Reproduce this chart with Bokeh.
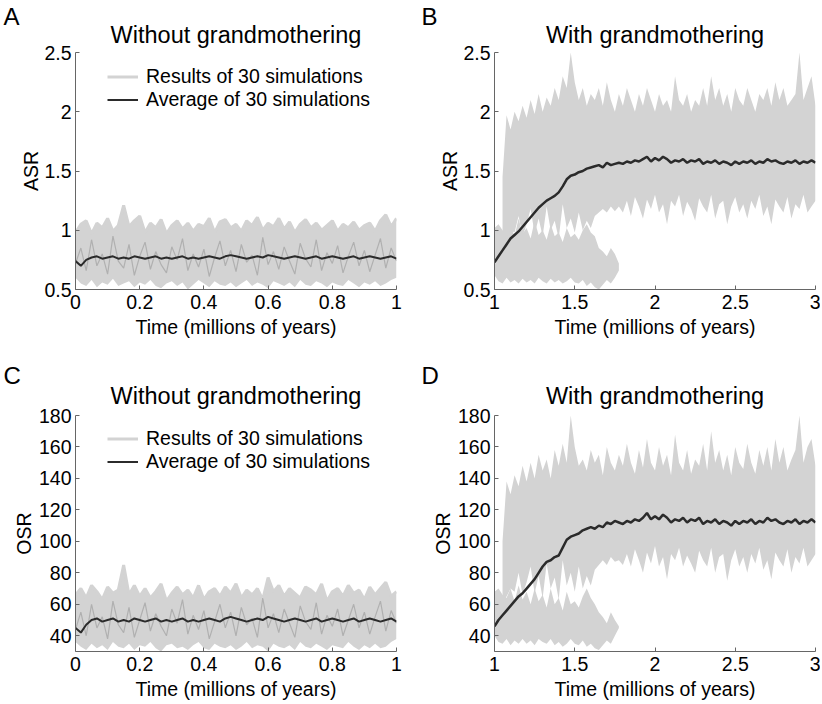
import numpy as np
from bokeh.plotting import figure
from bokeh.models import Range1d, Legend, LegendItem, FixedTicker, NumeralTickFormatter, Title
from bokeh.layouts import column, row
from bokeh.embed import file_html
from bokeh.resources import INLINE

# ---------------- data ----------------
upper_A = [0.98,1.05,1.08,0.97,1.06,1.02,1.10,0.99,1.04,1.21,
           1.03,1.08,1.12,0.98,1.06,1.02,1.09,0.97,1.04,1.08,
           1.01,1.06,0.99,1.05,1.03,1.10,0.98,1.07,1.09,1.02,
           1.05,0.99,1.08,1.04,1.11,1.00,1.06,1.03,1.10,1.01,
           1.07,0.98,1.05,1.09,1.02,1.06,1.00,1.04,1.08,0.99,
           1.05,1.02,1.07,1.00,1.04,1.06,0.99,1.08,1.13,1.03,
           1.10]
lower_A = [0.60,0.55,0.53,0.58,0.52,0.56,0.54,0.59,0.53,0.55,
           0.57,0.52,0.56,0.54,0.58,0.53,0.51,0.55,0.57,0.53,
           0.56,0.50,0.54,0.58,0.55,0.52,0.57,0.54,0.53,0.56,
           0.52,0.55,0.58,0.53,0.56,0.54,0.51,0.57,0.55,0.53,
           0.56,0.52,0.58,0.54,0.53,0.57,0.55,0.52,0.56,0.54,
           0.53,0.58,0.55,0.52,0.56,0.54,0.57,0.53,0.55,0.58,
           0.60]
strand_A = [0.72,0.85,0.66,0.92,0.70,0.80,0.63,0.95,0.74,0.68,
            0.88,0.62,0.78,0.90,0.67,0.82,0.71,0.64,0.86,0.75,
            0.93,0.66,0.80,0.69,0.84,0.61,0.77,0.91,0.70,0.83,
            0.65,0.88,0.73,0.79,0.62,0.94,0.71,0.82,0.67,0.86,
            0.74,0.63,0.89,0.76,0.69,0.92,0.66,0.81,0.72,0.87,
            0.64,0.78,0.90,0.70,0.83,0.65,0.79,0.93,0.68,0.85,
            0.74]
avg_A = [0.74,0.70,0.75,0.77,0.78,0.76,0.77,0.78,0.76,0.77,
         0.76,0.78,0.77,0.76,0.77,0.78,0.76,0.77,0.76,0.77,
         0.78,0.76,0.77,0.76,0.77,0.78,0.77,0.76,0.78,0.79,
         0.78,0.77,0.76,0.77,0.78,0.77,0.79,0.78,0.77,0.76,
         0.77,0.78,0.77,0.76,0.77,0.78,0.76,0.77,0.78,0.77,
         0.76,0.77,0.78,0.76,0.77,0.78,0.77,0.76,0.77,0.78,
         0.76]

upper_C = [66,70,64,72,68,63,71,67,69,85, 66,72,65,70,64,68,73,62,67,71,
           66,69,64,72,63,68,70,65,71,67, 73,64,69,66,70,63,77,68,72,65,
           70,67,64,71,69,66,73,62,68,70, 65,72,67,69,63,71,66,70,74,65, 68]
lower_C = [36,33,31,35,32,34,31,36,33,32, 35,31,34,33,36,32,30,34,35,32,
           33,31,34,36,32,31,35,33,32,34, 31,33,36,32,34,33,30,35,33,32,
           34,31,36,33,32,35,33,31,34,33, 32,36,33,31,34,32,35,32,33,36, 38]
strand_C = [44,55,40,60,45,52,38,62,47,42, 58,39,50,61,43,54,46,40,57,48,
            63,41,53,44,56,38,49,60,45,55, 40,58,47,51,39,64,45,54,42,57,
            48,39,59,49,44,61,41,53,46,57, 40,50,60,45,55,41,52,62,43,56, 48]
avg_C = [45,42,47,50,51,49,50,51,49,50, 49,51,50,49,50,51,49,50,49,50,
         51,49,50,49,50,51,50,49,51,52, 51,50,49,50,51,50,52,51,50,49,
         50,51,50,49,50,51,49,50,51,50, 49,50,51,49,50,51,50,49,50,51, 49]

low_lo_B = [0.62,0.57,0.55,0.60,0.56,0.58,0.55,0.59,0.56,0.58,
            0.55,0.60,0.57,0.55,0.59,0.56,0.58,0.55,0.57,0.60,
            0.56,0.55,0.58,0.53,0.56,0.52,0.50,0.54,0.58,0.55,
            0.60,0.66]
low_hi_B = [1.02,1.05,1.00,0.98,1.05,0.95,1.10,0.97,1.02,0.93,
            1.08,0.96,1.00,0.92,1.05,0.95,0.98,0.90,1.02,0.94,
            0.97,0.92,1.00,1.05,0.98,0.95,0.85,0.82,0.78,0.85,
            0.80,0.72]
high_lo_B = [0.90,0.95,1.00,0.98,1.12,0.95,1.05,1.18,0.97,1.10,
             0.95,1.20,1.00,1.08,0.93,1.22,1.02,1.10,0.98,1.15,
             1.00,1.08,1.02,1.12,1.15,1.18,1.15,1.20,1.16,1.20,
             1.15,
             1.25,1.12,1.28,1.20,1.10,1.26,1.18,1.30,1.15,1.22,
             1.05,1.25,1.20,1.30,1.12,1.24,1.18,1.08,1.27,1.20,
             1.15,1.30,1.10,1.22,1.25,1.05,1.20,1.28,1.15,1.22,
             1.10,1.25,1.18,1.30,1.12,1.20,1.05,1.26,1.20,1.15,
             1.28,1.10,1.22,1.18,1.30,1.15,1.20,1.25]
high_hi_B = [1.45,1.97,1.85,2.00,1.92,2.05,1.95,2.10,1.98,2.15,
             2.00,2.12,2.05,2.20,2.10,2.30,2.20,2.50,2.25,2.10,
             2.20,2.05,2.15,2.10,2.20,2.05,2.25,2.10,2.00,2.15,
             2.05,2.20,2.10,2.00,2.15,2.05,2.20,2.10,2.00,2.15,
             2.05,2.10,2.00,2.30,2.10,2.05,2.15,2.00,2.10,2.05,
             2.20,2.05,2.30,2.10,2.20,2.05,2.15,2.00,2.20,2.10,
             2.05,2.20,2.10,2.00,2.15,2.10,2.20,2.05,2.25,2.10,
             2.20,2.05,2.10,2.15,2.50,2.10,2.20,2.30,2.05]
avg_B = [0.73,0.78,0.83,0.88,0.93,0.96,0.99,1.03,1.07,1.11,
         1.15,1.19,1.22,1.25,1.27,1.29,1.32,1.37,1.43,1.46,
         1.47,1.49,1.50,1.52,1.53,1.54,1.55,1.53,1.57,1.55,
         1.56,1.57,1.56,1.58,1.57,1.59,1.58,1.60,1.62,1.58,
         1.61,1.59,1.62,1.60,1.57,1.59,1.58,1.60,1.57,1.59,
         1.58,1.60,1.56,1.58,1.57,1.59,1.56,1.58,1.57,1.55,
         1.58,1.56,1.58,1.57,1.59,1.56,1.58,1.57,1.60,1.58,
         1.59,1.57,1.56,1.58,1.57,1.59,1.56,1.58,1.57,1.59,
         1.57]

low_lo_D = [40,36,35,38,34,37,35,38,35,37, 34,38,36,35,38,34,36,33,35,38,
            35,34,37,33,35,32,31,34,37,35, 40,45]
low_hi_D = [68,70,66,64,70,62,72,63,68,60, 70,62,66,58,70,60,64,56,68,60,
            62,58,65,70,64,60,55,52,48,55, 50,46]
high_lo_D = [60,65,70,68,80,66,74,84,67,78, 64,86,70,77,63,88,72,80,68,84,
             70,78,72,82,85,88,85,90,87,88, 85,
             92,84,95,88,80,93,86,97,84,90, 76,92,88,96,84,91,86,80,94,88,
             84,96,80,90,92,75,88,95,84,90, 80,92,86,96,82,88,76,93,88,84,
             95,80,90,86,96,84,88,92]
high_hi_D = [100,138,130,142,135,148,138,150,140,155, 145,152,140,158,148,162,150,180,160,148,
             152,145,158,150,155,142,160,150,145,155, 148,162,150,143,158,147,165,150,145,160,
             148,155,142,168,150,145,158,143,152,148, 162,145,170,150,158,145,155,142,160,150,
             146,162,150,143,158,148,160,145,165,150, 160,145,152,158,180,150,160,165,148]
avg_D = [46,50,53,56,59,62,65,67,70,73, 76,80,84,87,88,90,91,96,101,103,
         104,105,107,108,109,108,110,109,112,111, 113,112,111,113,112,114,113,115,118,114,
         116,114,117,115,112,114,113,115,112,114, 113,115,111,113,112,114,111,113,112,110,
         113,111,113,112,114,111,113,112,115,113, 114,112,111,113,112,114,111,113,112,114,
         112]

x_ticks_early = [0, 0.2, 0.4, 0.6, 0.8, 1]
x_ticks_late = [1, 1.5, 2, 2.5, 3]
asr_ticks = [0.5, 1, 1.5, 2, 2.5]
osr_ticks = [40, 60, 80, 100, 120, 140, 160, 180]

FONT = "Liberation Sans"
LIGHT = "#d3d3d3"
MID = "#b0b0b0"
DARK = "#2b2b2b"
AXIS = "#666666"


def make_fig(width, height, bl, br, bt, bb, xr, yr, xticks, yticks,
             letter, letter_dx, title, title_standoff, ylabel, ylab_standoff):
    p = figure(width=width, height=height, output_backend="svg", toolbar_location=None,
               x_range=Range1d(*xr), y_range=Range1d(*yr),
               min_border_left=bl, min_border_right=br,
               min_border_top=bt, min_border_bottom=bb)
    # panel letter: the plot's own title (outermost panel above the frame)
    p.title.text = letter
    p.title.align = "left"
    p.title.offset = letter_dx
    p.title.standoff = -28
    p.title.text_font = FONT
    p.title.text_font_size = "24px"
    p.title.text_font_style = "normal"
    p.title.text_color = "black"
    # panel heading: an extra title closest to the frame
    p.add_layout(Title(text=title, align="center", standoff=title_standoff,
                       text_font=FONT, text_font_size="23.5px",
                       text_font_style="normal", text_color="black"), "above")
    p.outline_line_color = None
    p.grid.visible = False
    p.background_fill_color = "white"
    p.border_fill_color = "white"
    for ax, ticks in ((p.xaxis[0], xticks), (p.yaxis[0], yticks)):
        ax.ticker = FixedTicker(ticks=ticks)
        ax.formatter = NumeralTickFormatter(format="0.[0]")
        ax.major_tick_in = 4
        ax.major_tick_out = 0
        ax.minor_tick_in = 0
        ax.minor_tick_out = 0
        ax.axis_line_color = AXIS
        ax.major_tick_line_color = AXIS
        ax.major_label_text_font = FONT
        ax.major_label_text_font_size = "19.5px"
        ax.major_label_text_color = "black"
        ax.axis_label_text_font = FONT
        ax.axis_label_text_font_size = "19.5px"
        ax.axis_label_text_font_style = "normal"
        ax.axis_label_text_color = "black"
    p.xaxis[0].major_label_standoff = 5
    p.xaxis[0].axis_label_standoff = 4
    p.yaxis[0].major_label_standoff = 4
    p.yaxis[0].axis_label_standoff = ylab_standoff
    p.xaxis[0].axis_label = "Time (millions of years)"
    p.yaxis[0].axis_label = ylabel
    return p


def add_legend(p, light_r, avg_r, vy):
    leg = Legend(items=[LegendItem(label="Results of 30 simulations", renderers=[light_r]),
                        LegendItem(label="Average of 30 simulations", renderers=[avg_r])],
                 location=(32, vy), padding=0, margin=0, spacing=0,
                 label_height=23, glyph_height=23, glyph_width=31, label_standoff=8,
                 label_text_font=FONT, label_text_font_size="19.5px",
                 label_text_color="black",
                 border_line_alpha=0, background_fill_alpha=0)
    p.add_layout(leg)


def early_panel(p, upper, lower, strand, avg, vy):
    xs = np.linspace(0, 1, len(upper))
    p.varea(x=xs, y1=lower, y2=upper, fill_color=LIGHT)
    light_r = p.line(xs, upper, line_color=LIGHT, line_width=3)
    p.line(np.linspace(0, 1, len(strand)), strand, line_color=MID, line_width=1.2)
    r = p.line(np.linspace(0, 1, len(avg)), avg, line_color=DARK, line_width=2)
    add_legend(p, light_r, r, vy)


def late_panel(p, low_lo, low_hi, high_lo, high_hi, avg):
    x_low = np.linspace(1.0, 1.775, len(low_lo))
    x_high = np.linspace(1.05, 3.0, len(high_lo))
    p.varea(x=x_low, y1=low_lo, y2=low_hi, fill_color=LIGHT)
    p.varea(x=x_high, y1=high_lo, y2=high_hi, fill_color=LIGHT)
    p.line(np.linspace(1, 3, len(avg)), avg, line_color=DARK, line_width=2.5)


pA = make_fig(411, 352, 75, 15, 52, 63, (0, 1), (0.5, 2.5), x_ticks_early, asr_ticks,
              "A", -72, "Without grandmothering", 9, "ASR", -1)
early_panel(pA, upper_A, lower_A, strand_A, avg_A, 178)

pB = make_fig(409, 352, 83, 5, 52, 63, (1, 3), (0.5, 2.5), x_ticks_late, asr_ticks,
              "B", -73, "With grandmothering", 9, "ASR", -1)
late_panel(pB, low_lo_B, low_hi_B, high_lo_B, high_hi_B, avg_B)

pC = make_fig(411, 350, 75, 15, 63, 50, (0, 1), (30, 180), x_ticks_early, osr_ticks,
              "C", -72, "Without grandmothering", 13, "OSR", 1)
early_panel(pC, upper_C, lower_C, strand_C, avg_C, 178)

pD = make_fig(409, 350, 83, 5, 63, 50, (1, 3), (30, 180), x_ticks_late, osr_ticks,
              "D", -73, "With grandmothering", 13, "OSR", 1)
late_panel(pD, low_lo_D, low_hi_D, high_lo_D, high_hi_D, avg_D)

layout = column(row(pA, pB), row(pC, pD))
open("out.html", "w").write(file_html(layout, INLINE))
